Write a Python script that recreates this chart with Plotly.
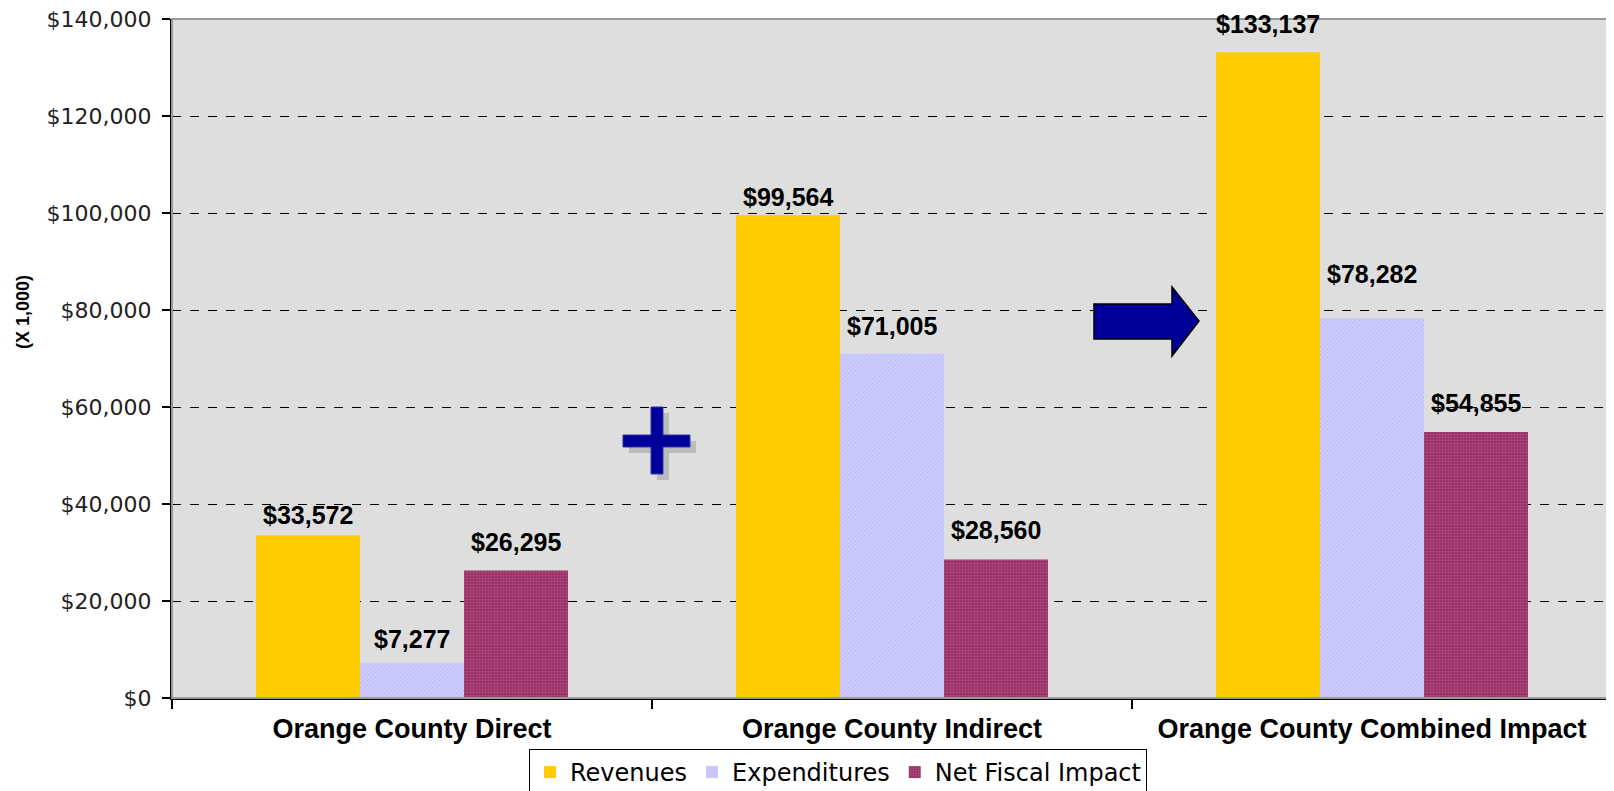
import plotly.graph_objects as go

categories = ["Orange County Direct", "Orange County Indirect", "Orange County Combined Impact"]
revenues = [33572, 99564, 133137]
expenditures = [7277, 71005, 78282]
net_fiscal = [26295, 28560, 54855]
series_names = ["Revenues", "Expenditures", "Net Fiscal Impact"]
y_ticks = [0, 20000, 40000, 60000, 80000, 100000, 120000, 140000]

W, H = 1614, 791
OFF = 8  # page body margin
L, R, T, B = 164, 10, 11, 101
PW, PH = W - L - R, H - T - B
BARGAP = 0.35

def px(x):
    return (x - OFF - L) / PW

def py(y):
    return (H - B - (y - OFF)) / PH

fig = go.Figure()
fig.add_trace(go.Bar(name=series_names[0], x=categories, y=revenues,
                     marker=dict(color="#FFCC00", line=dict(width=0))))
fig.add_trace(go.Bar(name=series_names[1], x=categories, y=expenditures,
                     marker=dict(color="#CCCCFF", line=dict(width=0),
                                 pattern=dict(shape="/", size=3, solidity=0.25,
                                              fgcolor="#B4B4F0", bgcolor="#CCCCFF",
                                              fillmode="replace"))))
fig.add_trace(go.Bar(name=series_names[2], x=categories, y=net_fiscal,
                     marker=dict(color="#993366", line=dict(width=0),
                                 pattern=dict(shape="+", size=3, solidity=0.3,
                                              fgcolor="#B0507F", bgcolor="#993366",
                                              fillmode="replace"))))

# data labels
bar_w = PW / len(categories) * (1 - BARGAP) / 3
lifts = [[4, 8, 12], [2, 12, 13], [12, 28, 13]]
for si, vals in enumerate([revenues, expenditures, net_fiscal]):
    for ci, v in enumerate(vals):
        fig.add_annotation(x=categories[ci], y=v, xref="x", yref="y",
                           text=f"${v:,}", showarrow=False, yanchor="bottom",
                           xshift=(si - 1) * bar_w, yshift=lifts[ci][si],
                           font=dict(family="Liberation Sans", size=25, color="black", weight="bold"))

# y-axis title
fig.add_annotation(x=px(23), y=py(312), xref="paper", yref="paper", text="<b>(X 1,000)</b>",
                   textangle=-90, showarrow=False, xanchor="center", yanchor="middle",
                   font=dict(family="Liberation Sans", size=18, color="black"))

shapes = []
# plot frame
shapes.append(dict(type="rect", xref="paper", yref="paper", x0=0, x1=1, y0=0, y1=1,
                   line=dict(color="#999999", width=2), layer="above"))

def path_from(pts):
    return "M " + " L ".join(f"{px(a):.5f},{py(b):.5f}" for a, b in pts) + " Z"

# plus sign with shadow
def plus(ox, oy):
    return [(651 + ox, 407 + oy), (663 + ox, 407 + oy), (663 + ox, 435 + oy), (690 + ox, 435 + oy),
            (690 + ox, 447 + oy), (663 + ox, 447 + oy), (663 + ox, 474 + oy), (651 + ox, 474 + oy),
            (651 + ox, 447 + oy), (623 + ox, 447 + oy), (623 + ox, 435 + oy), (651 + ox, 435 + oy)]

shapes.append(dict(type="path", xref="paper", yref="paper", path=path_from(plus(6, 6)),
                   fillcolor="#BBBBBB", line=dict(width=0), layer="above"))
shapes.append(dict(type="path", xref="paper", yref="paper", path=path_from(plus(0, 0)),
                   fillcolor="#000099", line=dict(color="#3333AA", width=1), layer="above"))

# arrow
arrow = [(1094, 304), (1172, 304), (1172, 287), (1199, 321), (1172, 356), (1172, 339), (1094, 339)]
shapes.append(dict(type="path", xref="paper", yref="paper", path=path_from(arrow),
                   fillcolor="#000099", line=dict(color="black", width=1.5), layer="above"))

fig.update_layout(
    width=W, height=H,
    margin=dict(l=L, r=R, t=T, b=B, autoexpand=False),
    paper_bgcolor="white",
    plot_bgcolor="#DEDEDE",
    barmode="group",
    bargap=BARGAP,
    bargroupgap=0,
    showlegend=True,
    legend=dict(orientation="h", x=px(529), y=py(749), xanchor="left", yanchor="top",
                bordercolor="black", borderwidth=1, bgcolor="white",
                font=dict(family="DejaVu Sans", size=24, color="black"),
                itemwidth=30, tracegroupgap=0),
    shapes=shapes,
    xaxis=dict(showline=True, linecolor="black", linewidth=2, ticks="outside",
               tickson="boundaries", ticklen=9, tickcolor="black", tickwidth=1.5,
               tickfont=dict(family="Liberation Sans", size=27, color="black", weight="bold"),
               showgrid=False, zeroline=False, automargin=False, ticklabelstandoff=6),
    yaxis=dict(range=[0, 140000], tickvals=y_ticks,
               ticktext=[f"${v:,}" for v in y_ticks],
               showline=True, linecolor="black", linewidth=2, ticks="outside",
               ticklen=8, tickcolor="black", tickwidth=1.5,
               tickfont=dict(family="DejaVu Sans", size=22, color="#222222"),
               showgrid=True, gridcolor="black", griddash="dash", gridwidth=1,
               zeroline=False, ticklabelstandoff=6, automargin=False,
               ticklabeloverflow="allow"),
)

fig.write_html("out.html")
